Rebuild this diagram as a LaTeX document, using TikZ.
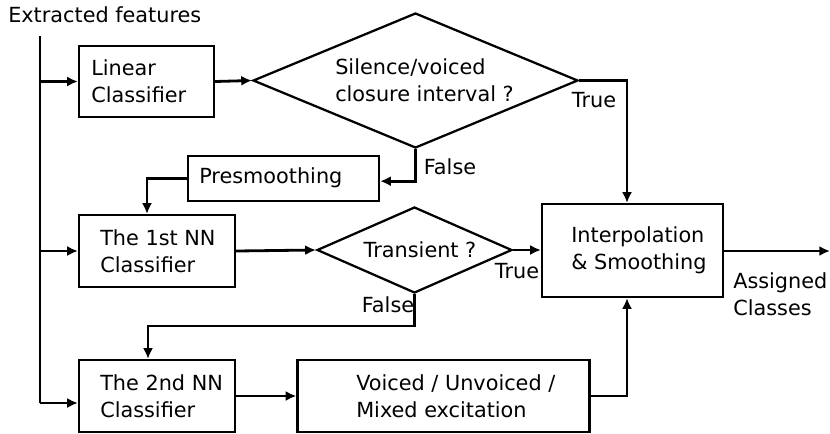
\documentclass[tikz,border=0pt]{standalone}
\usepackage{fontspec}
\setmainfont{DejaVu Sans}
\usetikzlibrary{shapes.geometric,arrows.meta}
\begin{document}
\begin{tikzpicture}[x=0.75pt,y=-0.75pt,
  every node/.style={font=\fontsize{15.6}{20.25}\selectfont},
  boxnode/.style={draw,line width=1.7pt,rectangle,inner sep=0pt,anchor=center},
  decision/.style={draw,line width=1.7pt,diamond,inner sep=0pt},
  lbl/.style={inner sep=0pt},
  txt/.style={inner sep=0pt,align=left,anchor=west},
  flow/.style={line width=2.1pt,-{Latex[length=8pt,width=7.5pt]}},
  wire/.style={line width=2.1pt}]
\useasboundingbox (0,0) rectangle (830,433);

% processing blocks
\node[boxnode,minimum width=101.25pt,minimum height=53.25pt] (lin) at (146.5,81.5) {};
\node[boxnode,minimum width=143.25pt,minimum height=33.75pt] (pre) at (283.5,178.5) {};
\node[boxnode,minimum width=117pt,minimum height=54pt] (nn1) at (157,251) {};
\node[boxnode,minimum width=117pt,minimum height=54pt] (nn2) at (157,396) {};
\node[boxnode,minimum width=219pt,minimum height=54pt] (vox) at (443.5,396) {};
\node[boxnode,minimum width=135.75pt,minimum height=69.75pt] (interp) at (632.5,250.5) {};

% block texts
\node[txt] (lint) at (91,81.5) {Linear\\Classifier};
\node[txt] (pret) at (199,178) {Presmoothing};
\node[txt] (nn1t) at (100,251) {The 1st NN\\Classifier};
\node[txt] (nn2t) at (100,396) {The 2nd NN\\Classifier};
\node[txt] (voxt) at (356,396) {Voiced / Unvoiced /\\Mixed excitation};
\node[txt] (intt) at (571,250.5) {Interpolation\\\& Smoothing};

% decisions
\node[decision,minimum width=243.75pt,minimum height=101.25pt] (d1) at (415.5,80.5) {};
\node[txt] (d1t) at (335,80.5) {Silence/voiced\\closure interval ?};
\node[decision,minimum width=146.25pt,minimum height=64.5pt] (d2) at (414.5,250) {};
\node[lbl] (d2t) at (420,250) {Transient ?};

% labels
\node[txt] (src) at (8,15) {Extracted features};
\node[lbl] (t1l) at (594,100) {True};
\node[lbl] (f1l) at (450,167) {False};
\node[lbl] (t2l) at (517,271) {True};
\node[lbl] (f2l) at (388,305) {False};
\node[txt] (outl) at (733,294) {Assigned\\Classes};

% routing points
\coordinate (in) at (40,36);
\coordinate (inb) at (40,403);
\coordinate (tr1) at (627,80.5);
\coordinate (fa1) at (147,178.5);
\coordinate (fa2) at (148,326);
\coordinate (vx) at (627,396);
\coordinate (out) at (830,251);

% feature bus
\draw[wire] (in) -- (inb);
\draw[flow] (inb) -- (inb -| nn2.west);
\draw[flow] (lin.west -| in) -- (lin.west);
\draw[flow] (nn1.west -| in) -- (nn1.west);

% main flow
\draw[flow] (lin.east) -- (d1.west);
\draw[flow] (d1.east) -- (tr1) -- (tr1 |- interp.north);
\draw[flow] (d1.south) |- ([yshift=-2pt]pre.east);
\draw[flow] (pre.west) -- (fa1) -- (fa1 |- nn1.north);
\draw[flow] (nn1.east) -- (d2.west);
\draw[flow] (d2.east) -- (d2.east -| interp.west);
\draw[flow] (d2.south) |- (fa2) -- (fa2 |- nn2.north);
\draw[flow] (nn2.east |- vox.west) -- (vox.west);
\draw[flow] (vox.east) -- (vx) -- (vx |- interp.south);
\draw[flow] (interp.east |- out) -- (out);
\end{tikzpicture}
\end{document}
